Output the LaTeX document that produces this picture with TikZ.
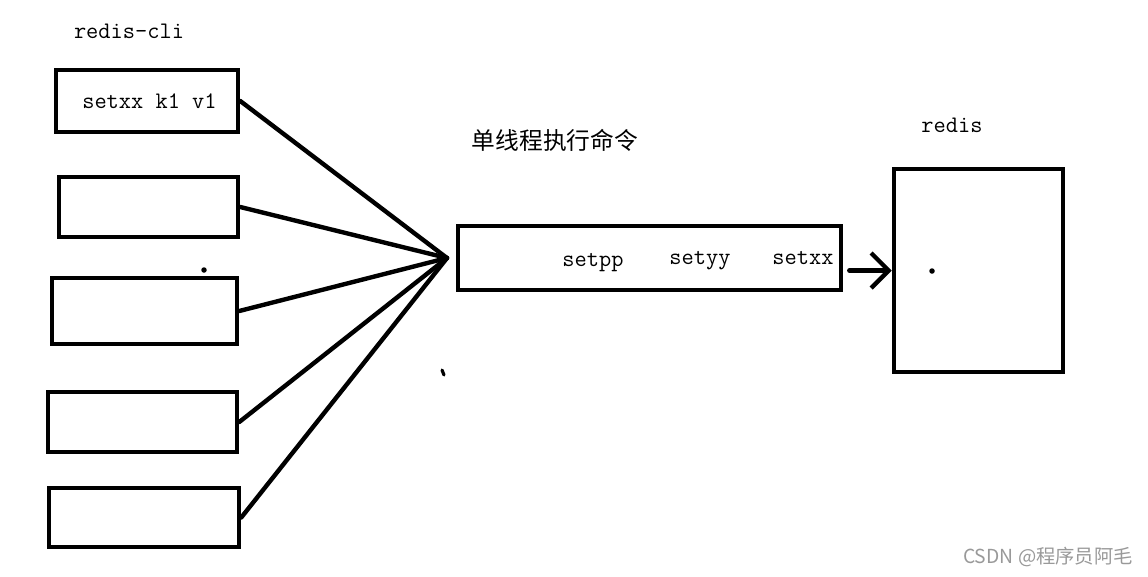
\documentclass[tikz,border=0pt]{standalone}
\usepackage{fontspec}
\newfontfamily\cjk{Noto Sans CJK SC}
\usetikzlibrary{arrows.meta}

\tikzset{
    box/.style={draw, line width=2.6pt, inner sep=0pt},
    wire/.style={line width=2.5pt, line cap=round},
    lbl/.style={anchor=base, inner sep=0pt, font=\fontsize{13.5}{16}\selectfont\ttfamily},
}

\begin{document}
\begin{tikzpicture}[x=0.02cm, y=-0.02cm]
        \useasboundingbox (0,0) rectangle (1148,576);

        % Clients (redis-cli)
        \node[lbl] (clilbl) at (129,38) {redis-cli};
        \node[box, minimum width=3.64cm, minimum height=1.24cm,
              font=\fontsize{13.5}{16}\selectfont\ttfamily] (c1) at (147,101) {\hspace{0.1cm}setxx k1 v1};
        \foreach \n/\x/\y/\w/\h in {c2/148.5/207/3.58/1.2, c3/144.5/311/3.7/1.32,
                                      c4/142.5/422/3.78/1.2, c5/144/517.5/3.8/1.18} {
            \node[box, minimum width=\w cm, minimum height=\h cm] (\n) at (\x,\y) {};
        }

        % Command queue
        \node[box, minimum width=7.66cm, minimum height=1.28cm] (queue) at (649.5,258) {};
        \node[font=\cjk\fontsize{13.5}{16}\selectfont, anchor=base, inner sep=0pt] (qlbl) at (555,149) {单线程执行命令};
        \node[lbl] (q1) at (593,266) {setpp};
        \node[lbl] (q2) at (700,264) {setyy};
        \node[lbl] (q3) at (803,264) {setxx};

        % Clients converge on the queue
        \coordinate (hub) at (447,258);
        \foreach \n in {c1,c2,c3,c4,c5}
            \draw[wire] (\n.east) -- (hub);

        % Redis server
        \node[box, minimum width=3.38cm, minimum height=4.06cm] (redis) at (978.5,270.5) {};
        \node[lbl] (rlbl) at (952,132) {redis};
        \draw[wire, -{Straight Barb[length=3.5mm, width=7mm]}]
            ([xshift=0.12cm]queue.east |- redis.west) -- (redis.west);

        % Stray marks
        \fill (204,270) circle (0.055cm);
        \fill (932,271) circle (0.055cm);
        \draw[wire, line width=1.8pt] (442,370) -- (444,375);

        % Watermark
        \node[font=\cjk\fontsize{11}{13}\selectfont, text=black!40, anchor=base, inner sep=0pt] (wm) at (1048,563) {CSDN @程序员阿毛};
    \end{tikzpicture}
\end{document}
